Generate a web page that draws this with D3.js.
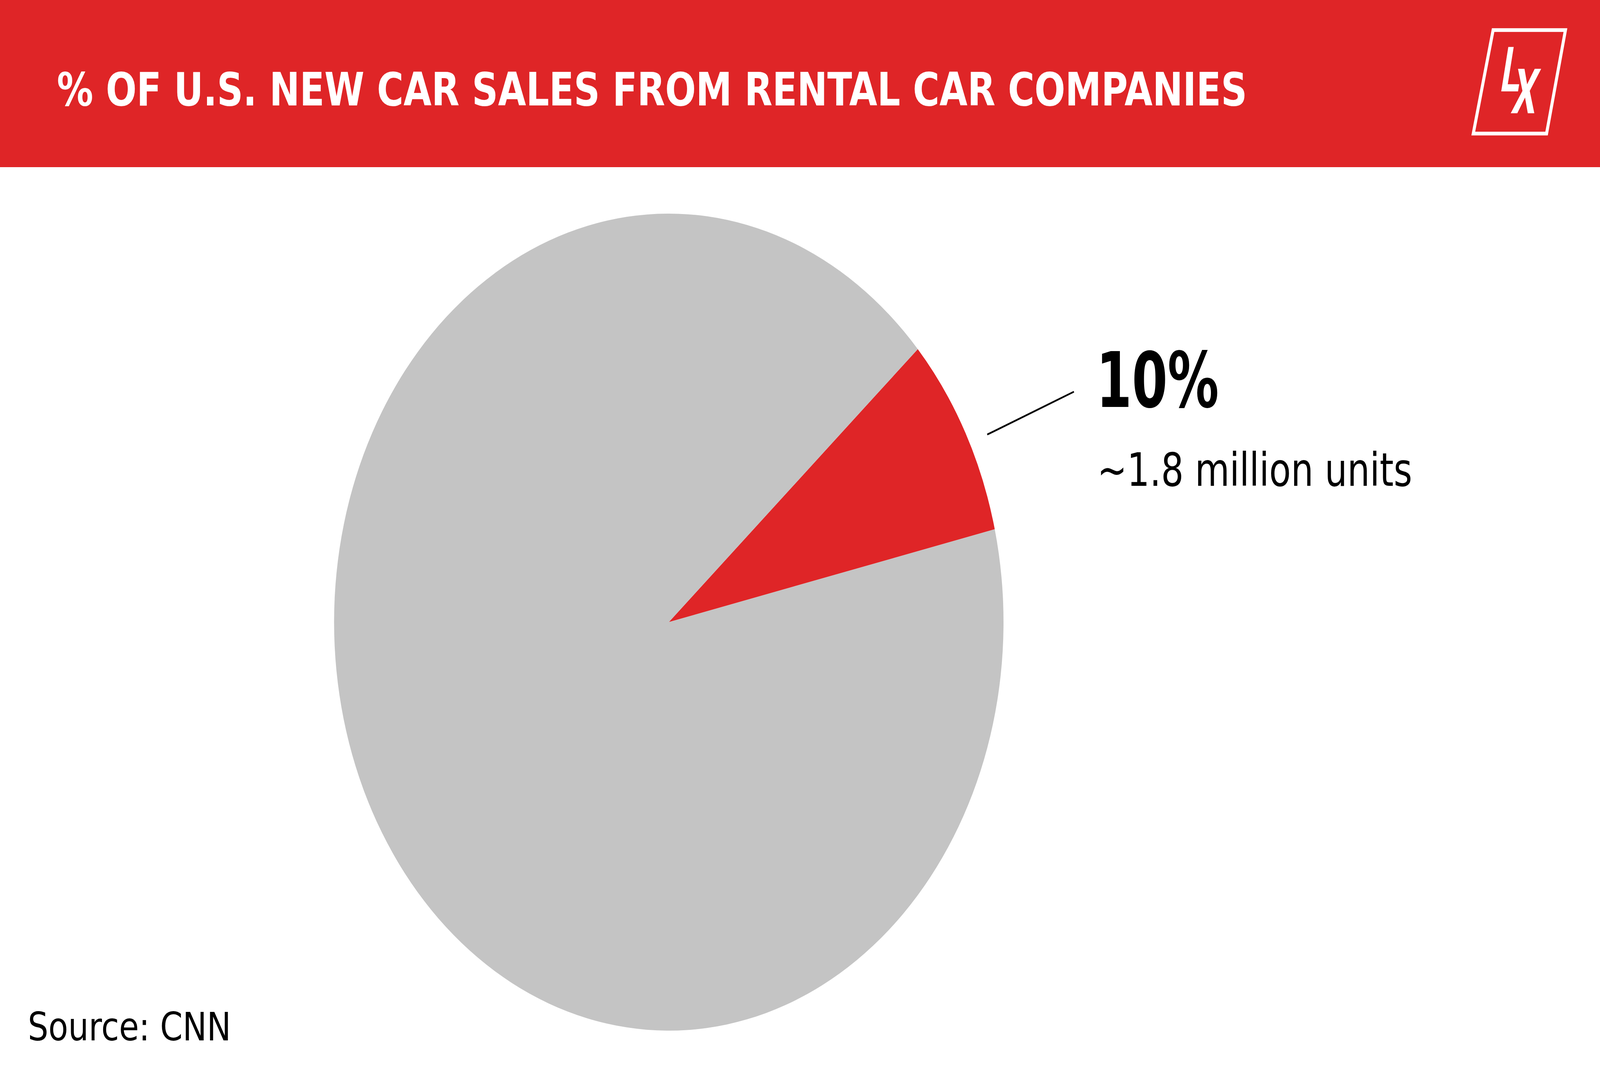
<!DOCTYPE html>
<html>
<head>
<meta charset="utf-8">
<script src="https://cdn.jsdelivr.net/npm/d3@7"></script>
<style>
  html, body { margin: 0; padding: 0; background: #fff; overflow: hidden; }
  svg { display: block; }
</style>
</head>
<body>
<div id="chartContainer"></div>
<script>
// chart data
const categories = ['Rental car companies', 'Other buyers'];
const shares = [8, 92];            // share of the circle as drawn
const calloutValue = '10%';
const calloutNote = '~1.8 million units';
const titleText = '% OF U.S. NEW CAR SALES FROM RENTAL CAR COMPANIES';
const sourceText = 'Source: CNN';
const logoLetters = ['L', 'X'];

const width = 5000;
const height = 2727;
const red = '#df2527';
const grey = '#c4c4c4';

const chartContainer = document.getElementById('chartContainer');

// drawn in a 5000x2727 box, scaled to whatever the window is
const svg = d3.select(chartContainer)
    .append('svg')
    .attr('viewBox', `0 0 ${width} ${height}`)
    .attr('preserveAspectRatio', 'none')
    .style('width', '100vw')
    .style('height', '100vh');

// header band
svg.append('rect')
    .attr('x', 0)
    .attr('y', 0)
    .attr('width', width)
    .attr('height', 428)
    .attr('fill', red);

svg.append('text')
    .attr('x', 178)
    .attr('y', 270)
    .attr('font-family', 'DejaVu Sans')
    .attr('font-weight', 'bold')
    .attr('font-size', 118)
    .attr('fill', '#fff')
    .attr('textLength', 3719)
    .attr('lengthAdjust', 'spacingAndGlyphs')
    .text(titleText);

// logo: slanted box with L X
const logo = svg.append('g');
logo.append('path')
    .attr('d', 'M4666,77 L4892,77 L4833,342 L4604,342 Z')
    .attr('fill', 'none')
    .attr('stroke', '#fff')
    .attr('stroke-width', 9.5);

const letterPos = [{x: 4684, y: 234, w: 62}, {x: 4720, y: 290, w: 76}];
logo.selectAll('g.letter')
    .data(logoLetters)
    .enter()
    .append('g')
    .attr('class', 'letter')
    .attr('transform', (d, i) => `translate(${letterPos[i].x},${letterPos[i].y}) skewX(-11)`)
    .append('text')
    .attr('x', 0)
    .attr('y', 0)
    .attr('font-family', 'Roboto')
    .attr('font-weight', 'bold')
    .attr('font-size', 160)
    .attr('fill', '#fff')
    .attr('textLength', (d, i) => letterPos[i].w)
    .attr('lengthAdjust', 'spacingAndGlyphs')
    .text(d => d);

// pie
const cx = 2090;
const cy = 1593;
const radius = 1046;
const startAngle = 48.06 * Math.PI / 180;

const color = d3.scaleOrdinal(categories, [red, grey]);

const pie = d3.pie()
    .sort(null)
    .value(d => d.value)
    .startAngle(startAngle)
    .endAngle(startAngle + 2 * Math.PI);

const arc = d3.arc()
    .innerRadius(0)
    .outerRadius(radius);

const slices = pie(categories.map((c, i) => ({category: c, value: shares[i]})));

const pieGroup = svg.append('g')
    .attr('transform', `translate(${cx},${cy})`);

pieGroup.selectAll('path')
    .data(slices)
    .enter()
    .append('path')
    .attr('d', arc)
    .attr('fill', d => color(d.data.category));

// callout for the red slice
const redSlice = slices[0];
const midAngle = (redSlice.startAngle + redSlice.endAngle) / 2;
const lineStart = d3.pointRadial(midAngle + 0.031, radius + 59);
const labelX = 3426;

pieGroup.append('line')
    .attr('x1', lineStart[0])
    .attr('y1', lineStart[1])
    .attr('x2', labelX - 70 - cx)
    .attr('y2', 1003 - cy)
    .attr('stroke', '#000')
    .attr('stroke-width', 4.5);

svg.append('text')
    .attr('x', labelX)
    .attr('y', 1042)
    .attr('font-family', 'DejaVu Sans')
    .attr('font-weight', 'bold')
    .attr('font-size', 196)
    .attr('fill', '#000')
    .attr('textLength', 383)
    .attr('lengthAdjust', 'spacingAndGlyphs')
    .text(calloutValue);

svg.append('text')
    .attr('x', 3429)
    .attr('y', 1244)
    .attr('font-family', 'DejaVu Sans')
    .attr('font-size', 117)
    .attr('fill', '#000')
    .attr('textLength', 984)
    .attr('lengthAdjust', 'spacingAndGlyphs')
    .text(calloutNote);

// source note
svg.append('text')
    .attr('x', 87)
    .attr('y', 2664)
    .attr('font-family', 'DejaVu Sans')
    .attr('font-size', 100)
    .attr('fill', '#000')
    .attr('textLength', 635)
    .attr('lengthAdjust', 'spacingAndGlyphs')
    .text(sourceText);
</script>
</body>
</html>
